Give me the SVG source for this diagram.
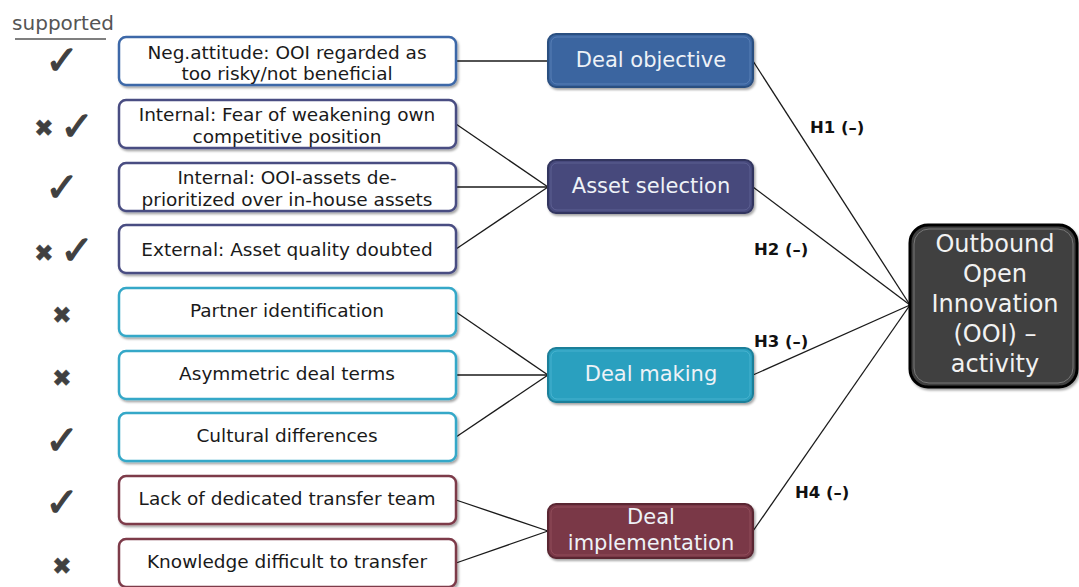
<svg xmlns="http://www.w3.org/2000/svg" width="1079" height="587" viewBox="0 0 1079 587">
<defs>
<filter id="sh" x="-10%" y="-10%" width="120%" height="130%">
<feDropShadow dx="1.5" dy="2" stdDeviation="1.2" flood-color="#000" flood-opacity="0.35"/>
</filter>
<style>
.lb{fill:#fff;stroke-width:2.5;filter:url(#sh)}
.lt{font-family:"DejaVu Sans",Verdana,sans-serif;font-size:18.5px;fill:#1a1a1a;text-anchor:middle}
.mt{font-family:"DejaVu Sans",Verdana,sans-serif;font-size:21px;fill:#eef2f7;text-anchor:middle}
.ot{font-family:"DejaVu Sans",Verdana,sans-serif;font-size:24px;fill:#f2f2f2;text-anchor:middle}
.ht{font-family:"DejaVu Sans",Verdana,sans-serif;font-size:16.5px;font-weight:bold;fill:#111}
.mk{font-family:"DejaVu Sans",sans-serif;fill:#404040;stroke:#404040;text-anchor:middle}
.ck{font-size:40px;stroke-width:1.2}
.cx{font-size:23px;stroke-width:0.5}
.c1{stroke:#3c68a8}.c2{stroke:#4a4d82}.c3{stroke:#35a8c8}.c4{stroke:#7d3a4a}
.mb{stroke-width:2;filter:url(#sh)}
.in{fill:none;stroke-width:1;stroke-opacity:0.6}
.cn line{stroke:#1a1a1a;stroke-width:1.3}
</style>
</defs>
<rect width="1079" height="587" fill="#fff"/>

<g id="header">
<text x="63" y="30" font-family="DejaVu Sans, sans-serif" font-size="20" fill="#555" text-anchor="middle">supported</text>
<line x1="15" y1="39" x2="106" y2="39" stroke="#555" stroke-width="1.3"/>
</g>

<g id="marks">
<text class="mk ck" x="62" y="74">✓</text>
<text class="mk cx" x="44" y="136">✖</text><text class="mk ck" x="77" y="140">✓</text>
<text class="mk ck" x="62" y="201">✓</text>
<text class="mk cx" x="44" y="261">✖</text><text class="mk ck" x="77" y="264">✓</text>
<text class="mk cx" x="62" y="323">✖</text>
<text class="mk cx" x="62" y="386">✖</text>
<text class="mk ck" x="62" y="454">✓</text>
<text class="mk ck" x="62" y="516">✓</text>
<text class="mk cx" x="62" y="574">✖</text>
</g>

<g id="connectors" class="cn">
<line x1="456" y1="61" x2="548" y2="61"/>
<line x1="456" y1="124" x2="548" y2="187"/>
<line x1="456" y1="187" x2="548" y2="187"/>
<line x1="456" y1="249" x2="548" y2="187"/>
<line x1="456" y1="312" x2="548" y2="375"/>
<line x1="456" y1="375" x2="548" y2="375"/>
<line x1="456" y1="437" x2="548" y2="375"/>
<line x1="456" y1="500" x2="548" y2="531"/>
<line x1="456" y1="563" x2="548" y2="531"/>
<line x1="753" y1="61" x2="910" y2="305"/>
<line x1="753" y1="187" x2="910" y2="305"/>
<line x1="753" y1="375" x2="910" y2="305"/>
<line x1="753" y1="531" x2="910" y2="305"/>
</g>

<g id="hlabels">
<text class="ht" x="810" y="133">H1 (–)</text>
<text class="ht" x="754" y="255">H2 (–)</text>
<text class="ht" x="754" y="347">H3 (–)</text>
<text class="ht" x="795" y="498">H4 (–)</text>
</g>

<g id="n1"><rect class="lb c1" x="119" y="37" width="337" height="48" rx="7"/>
<text class="lt" x="287" y="59">Neg.attitude: OOI regarded as</text>
<text class="lt" x="287" y="80">too risky/not beneficial</text></g>
<g id="n2"><rect class="lb c2" x="119" y="100" width="337" height="48" rx="7"/>
<text class="lt" x="287" y="121">Internal: Fear of weakening own</text>
<text class="lt" x="287" y="143">competitive position</text></g>
<g id="n3"><rect class="lb c2" x="119" y="163" width="337" height="48" rx="7"/>
<text class="lt" x="287" y="184">Internal: OOI-assets de-</text>
<text class="lt" x="287" y="206">prioritized over in-house assets</text></g>
<g id="n4"><rect class="lb c2" x="119" y="225" width="337" height="48" rx="7"/>
<text class="lt" x="287" y="256">External: Asset quality doubted</text></g>
<g id="n5"><rect class="lb c3" x="119" y="288" width="337" height="48" rx="7"/>
<text class="lt" x="287" y="317">Partner identification</text></g>
<g id="n6"><rect class="lb c3" x="119" y="351" width="337" height="48" rx="7"/>
<text class="lt" x="287" y="380">Asymmetric deal terms</text></g>
<g id="n7"><rect class="lb c3" x="119" y="413" width="337" height="48" rx="7"/>
<text class="lt" x="287" y="442">Cultural differences</text></g>
<g id="n8"><rect class="lb c4" x="119" y="476" width="337" height="48" rx="7"/>
<text class="lt" x="287" y="505">Lack of dedicated transfer team</text></g>
<g id="n9"><rect class="lb c4" x="119" y="539" width="337" height="48" rx="7"/>
<text class="lt" x="287" y="568">Knowledge difficult to transfer</text></g>

<g id="m1"><rect class="mb" x="548" y="34" width="205" height="53" rx="8" fill="#3a65a0" stroke="#2c4f80"/>
<rect class="in" x="551" y="37" width="199" height="47" rx="6" stroke="#6a8fc4"/>
<text class="mt" x="651" y="67">Deal objective</text></g>
<g id="m2"><rect class="mb" x="548" y="160" width="205" height="53" rx="8" fill="#464a7c" stroke="#33365f"/>
<rect class="in" x="551" y="163" width="199" height="47" rx="6" stroke="#6a6ea0"/>
<text class="mt" x="651" y="193">Asset selection</text></g>
<g id="m3"><rect class="mb" x="548" y="348" width="205" height="54" rx="8" fill="#2aa0bf" stroke="#1f7f99"/>
<rect class="in" x="551" y="351" width="199" height="48" rx="6" stroke="#5cc0da"/>
<text class="mt" x="651" y="381">Deal making</text></g>
<g id="m4"><rect class="mb" x="548" y="504" width="205" height="54" rx="8" fill="#7a3947" stroke="#5a2733"/>
<rect class="in" x="551" y="507" width="199" height="48" rx="6" stroke="#a05a68"/>
<text class="mt" x="651" y="524">Deal</text>
<text class="mt" x="651" y="550">implementation</text></g>

<g id="ooi"><rect x="910" y="225" width="167" height="162" rx="18" fill="#404040" stroke="#000" stroke-width="3" filter="url(#sh)"/>
<rect x="914" y="229" width="159" height="154" rx="15" fill="none" stroke="#777" stroke-width="1"/>
<text class="ot" x="995" y="252">Outbound</text>
<text class="ot" x="995" y="282">Open</text>
<text class="ot" x="995" y="312">Innovation</text>
<text class="ot" x="995" y="342">(OOI) –</text>
<text class="ot" x="995" y="372">activity</text></g>
</svg>
